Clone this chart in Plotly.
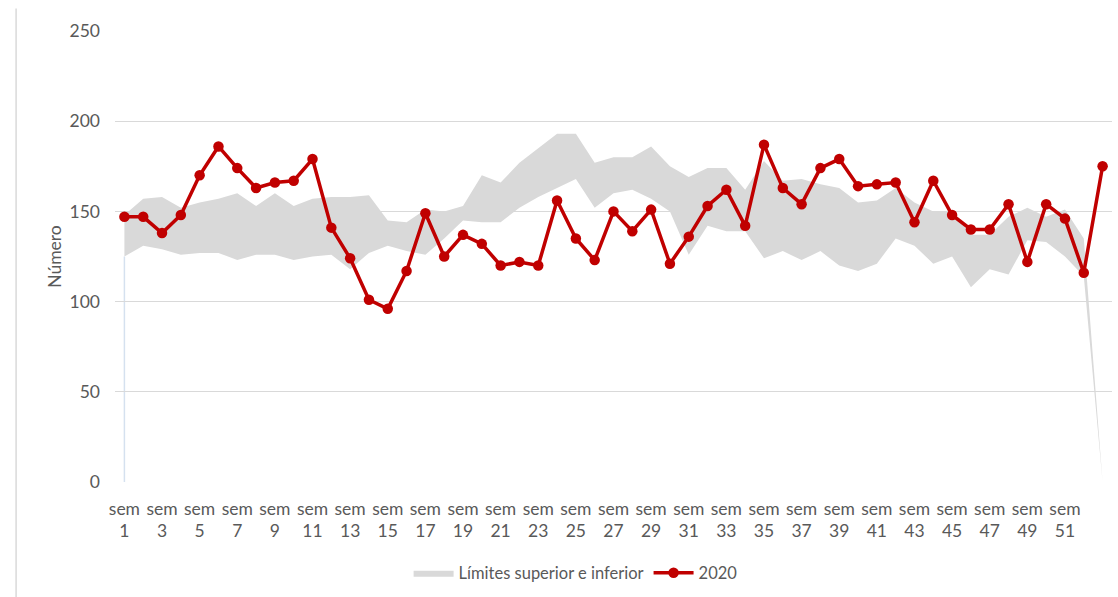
import plotly.graph_objects as go

# Weekly counts for 2020 and the historical band (lower / upper limits)
weeks = list(range(1, 54))
serie_2020 = [147, 147, 138, 148, 170, 186, 174, 163, 166, 167,
              179, 141, 124, 101, 96, 117, 149, 125, 137, 132,
              120, 122, 120, 156, 135, 123, 150, 139, 151, 121,
              136, 153, 162, 142, 187, 163, 154, 174, 179, 164,
              165, 166, 144, 167, 148, 140, 140, 154, 122, 154,
              146, 116, 175]
limite_superior = [148, 157, 158, 152, 155, 157, 160, 153, 160, 153,
                   157, 158, 158, 159, 145, 144, 151, 150, 153, 170,
                   166, 177, 185, 193, 193, 177, 180, 180, 186, 175,
                   169, 174, 174, 162, 178, 167, 168, 165, 163, 155,
                   156, 163, 155, 150, 150, 137, 137, 147, 152, 147,
                   151, 135, 0]
limite_inferior = [125, 131, 129, 126, 127, 127, 123, 126, 126, 123,
                   125, 126, 118, 127, 131, 128, 126, 135, 145, 144,
                   144, 152, 158, 163, 168, 152, 160, 162, 157, 150,
                   126, 142, 139, 139, 124, 128, 123, 128, 120, 117,
                   121, 135, 131, 121, 125, 108, 118, 115, 134, 133,
                   125, 114, 0]
tick_weeks = weeks[0:52:2]
tick_text = [f"sem<br>{w}" for w in tick_weeks]
y_ticks = [0, 50, 100, 150, 200, 250]

FONT = "Lato"
TXT = "#595959"
GRID = "#D9D9D9"
FS = 17.5

fig = go.Figure()

# Band: invisible lower edge, then upper edge filled down to it
fig.add_trace(go.Scatter(
    x=weeks, y=limite_inferior, mode="lines",
    line=dict(width=0, color="rgba(0,0,0,0)"),
    showlegend=False, hoverinfo="skip",
))
fig.add_trace(go.Scatter(
    x=weeks, y=limite_superior, mode="lines",
    line=dict(width=0, color="#D9D9D9"),
    fill="tonexty", fillcolor="#D9D9D9",
    name="Límites superior e inferior",
))
fig.add_trace(go.Scatter(
    x=weeks, y=serie_2020, mode="lines+markers",
    line=dict(color="#C00000", width=3.5),
    marker=dict(color="#C00000", size=10.5),
    name="2020",
))

# Left edge of the lower area series
fig.add_shape(type="line", xref="x", yref="y",
              x0=weeks[0], x1=weeks[0], y0=0, y1=limite_inferior[0],
              line=dict(color="#D5E1EF", width=1.5), layer="below")
# Chart frame edge on the left
fig.add_shape(type="line", xref="paper", yref="paper",
              x0=-0.0992, x1=-0.0992, y0=1.05, y1=-0.26,
              line=dict(color="#D9D9D9", width=1.5))

fig.update_layout(
    width=1118, height=597,
    margin=dict(l=115, r=6, t=31, b=115),
    paper_bgcolor="white", plot_bgcolor="white",
    font=dict(family=FONT, size=FS, color=TXT),
    showlegend=True,
    legend=dict(orientation="h", x=0.462, xanchor="center",
                y=-0.202, yanchor="middle", traceorder="normal",
                font=dict(family=FONT, size=FS - 1, color=TXT),
                itemwidth=40, tracegroupgap=0),
    xaxis=dict(
        range=[0.5, 53.5], tickmode="array",
        tickvals=tick_weeks, ticktext=tick_text,
        showgrid=False, zeroline=False, showline=False,
        ticks="", tickfont=dict(family=FONT, size=FS, color=TXT),
        ticklabelstandoff=14,
    ),
    yaxis=dict(
        range=[0, 250], tickmode="array", tickvals=y_ticks,
        showgrid=True, gridcolor=GRID, gridwidth=1,
        zeroline=False, showline=False, ticks="",
        tickfont=dict(family=FONT, size=FS, color=TXT),
        ticklabelstandoff=14,
        title=dict(text="Número", standoff=3,
                   font=dict(family=FONT, size=FS, color=TXT)),
    ),
)

fig.write_html("out.html")
